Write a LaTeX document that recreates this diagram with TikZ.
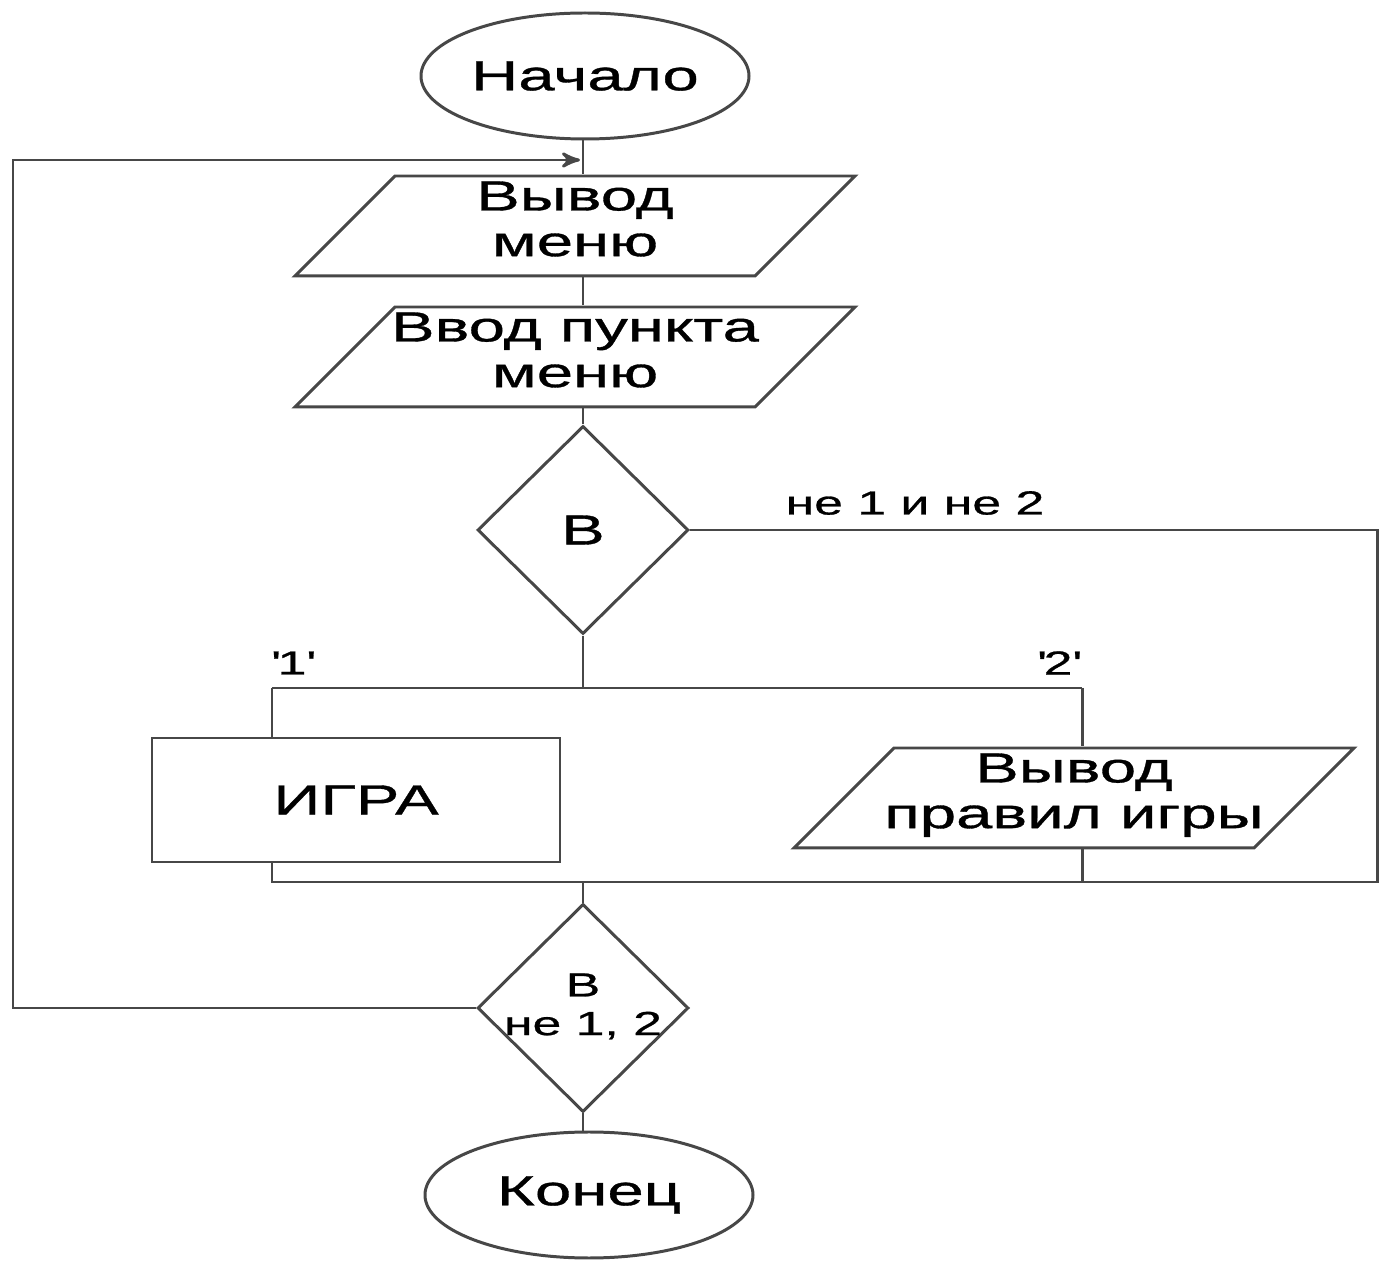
\documentclass[tikz,border=0pt]{standalone}
\usepackage{fontspec}
\setmainfont{Liberation Sans}[FakeStretch=1.55, FakeBold=0.8]
\usetikzlibrary{positioning}
\usetikzlibrary{shapes.geometric}
\usetikzlibrary{arrows}
\tikzset{>=stealth'}
\tikzset{ln/.style={draw=black!72, line width=0.85pt}}
\tikzset{term/.style={ln, ellipse, minimum width=3.28cm, minimum height=1.26cm, inner sep=0pt, font=\fontsize{12}{13.5}\selectfont}}
\tikzset{io/.style={ln, trapezium, trapezium left angle=45, trapezium right angle=135, text height=16.7pt, text depth=11.75pt, inner sep=0pt, font=\fontsize{12}{13}\selectfont}}
\tikzset{proc/.style={ln, rectangle, minimum width=4.08cm, minimum height=1.24cm, inner sep=0pt, font=\fontsize{12}{13.5}\selectfont}}
\tikzset{cond/.style={ln, diamond, aspect=1, minimum width=2.11cm, minimum height=2.08cm, inner sep=0pt, align=center}}
\tikzset{lbl/.style={inner sep=1pt, font=\fontsize{9.5}{11}\selectfont}}
\newcommand{\iolines}[2]{\makebox[3.6cm]{\begin{tabular}{@{}c@{}}#1\\#2\end{tabular}}}

\begin{document}
\begin{tikzpicture}
\useasboundingbox (0,0) rectangle (13.79,-12.62);
\begin{scope}[on grid]
\node[term] (start) at (5.85,-0.76) {Начало};
\node[io] (menu) at (5.75,-2.26) {\iolines{Вывод}{меню}};
\node[io] (item) [below = 1.31 of menu] {\iolines{Ввод пункта}{меню}};
\node[cond, font=\fontsize{12}{13.5}\selectfont] (choice) at (5.83,-5.3) {В};
\node[proc] (game) at (3.56,-8.0) {ИГРА};
\node[io] (rules) at (10.74,-7.98) {\iolines{Вывод}{правил игры}};
\node[cond] (check) at (5.83,-10.08) {\makebox[0pt]{\fontsize{9.5}{11}\selectfont\begin{tabular}{@{}c@{}}В\\не 1, 2\end{tabular}}};
\node[term] (finish) at (5.89,-11.95) {Конец};

\node[lbl] (no12) at (9.15,-5.03) {не 1 и не 2};
\node[lbl] (one) at (2.92,-6.63) {\textquotesingle1\textquotesingle};
\node[lbl] (two) at (10.58,-6.63) {\textquotesingle2\textquotesingle};

\coordinate (back) at (5.8,-1.6);
\coordinate (sl) at (2.72,-6.88);
\coordinate (sr) at (10.82,-6.88);
\coordinate (rc) at (13.77,-5.3);
\coordinate (jl) at (2.72,-8.82);
\coordinate (jr) at (13.77,-8.82);

\draw[ln] (start.south -| choice) -- (choice |- menu.north);
\draw[ln] (choice |- menu.south) -- (choice |- item.north);
\draw[ln] (item.south -| choice) -- (choice);
\draw[ln] (choice) -- (choice |- sl);
\draw[ln] (sl) -- (sr);
\draw[ln] (sl) -- (sl |- game.north);
\draw[ln] (sr) -- (sr |- rules.north);

\draw[ln] (choice.east) -- (rc) -- (jr) -- (jl) -- (jl |- game.south);
\draw[ln] (sr |- rules.south) -- (sr |- jl);
\draw[ln] (check.north) -- (check |- jl);
\draw[ln] (check.south) -- (check.south |- finish.north);

\draw[ln, ->] (check.west) -- ++(-4.63,0) |- (back);
\end{scope}
\end{tikzpicture}
\end{document}
